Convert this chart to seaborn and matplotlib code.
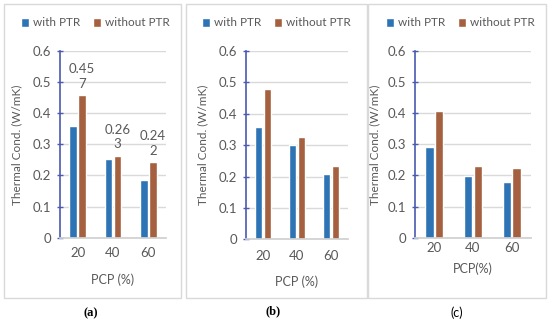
import numpy as np
import pandas as pd
import matplotlib.pyplot as plt
import seaborn as sns
from matplotlib.patches import Rectangle, Patch

# data
pcp = ['20', '40', '60']
with_a = [0.359, 0.254, 0.185]
without_a = [0.457, 0.263, 0.242]
with_b = [0.359, 0.301, 0.207]
without_b = [0.478, 0.325, 0.235]
with_c = [0.293, 0.198, 0.179]
without_c = [0.408, 0.230, 0.225]
series = ['with PTR', 'without PTR']
yticks = [0, 0.1, 0.2, 0.3, 0.4, 0.5, 0.6]
ytick_labels = ['0', '0.1', '0.2', '0.3', '0.4', '0.5', '0.6']

blue = '#2e74b5'
brown = '#a5613f'
grey_txt = '#595959'
axis_col = '#4a5ab0'

sns.set_theme(style='white')
plt.rcParams['font.family'] = ['Lato', 'DejaVu Sans']

W, H = 550, 323
fig = plt.figure(figsize=(5.5, 3.23), dpi=100)


def px_axes(x0, x1, y0, y1):
    return fig.add_axes([x0 / W, (H - y1) / H, (x1 - x0) / W, (y1 - y0) / H])


def px_box(x0, x1, y0, y1):
    fig.add_artist(Rectangle((x0 / W, (H - y1) / H), (x1 - x0) / W, (y1 - y0) / H,
                             transform=fig.transFigure, fill=False,
                             edgecolor='#d9d9d9', linewidth=1.0))


panels = [
    dict(w=with_a, wo=without_a, ax=(60, 166, 51, 237.7), box=(4, 181, 4, 298),
         leg=95, ylab=-0.36, xlab=-0.19, xlabel='PCP (%)', pad=7,
         tag='(a)', tagpos=(91, 313), tagstyle=dict(family='Liberation Serif', weight='bold'),
         labels=True),
    dict(w=with_b, wo=without_b, ax=(246, 348, 51, 239.3), box=(186, 367, 4, 298),
         leg=276, ylab=-0.37, xlab=-0.19, xlabel='PCP (%)', pad=8,
         tag='(b)', tagpos=(273, 311), tagstyle=dict(family='Liberation Serif', weight='bold'),
         labels=False),
    dict(w=with_c, wo=without_c, ax=(415, 531, 51, 237.7), box=(368, 546, 4, 298),
         leg=460, ylab=-0.30, xlab=-0.135, xlabel='PCP(%)', pad=3,
         tag='(c)', tagpos=(457, 313), tagstyle=dict(),
         labels=False),
]

for p in panels:
    px_box(*p['box'])
    ax = px_axes(*p['ax'])
    df = pd.DataFrame({
        'PCP': pcp * 2,
        'val': p['w'] + p['wo'],
        'series': [series[0]] * 3 + [series[1]] * 3,
    })
    sns.barplot(data=df, x='PCP', y='val', hue='series', palette=[blue, brown],
                width=0.5, gap=0.15, ax=ax, legend=False, saturation=1)

    ax.set_ylim(0, 0.6)
    ax.set_xlim(-0.5, 2.5)
    ax.set_yticks(yticks)
    ax.set_yticklabels(ytick_labels)
    ax.yaxis.grid(True, color='#d9d9d9', linewidth=1)
    ax.set_axisbelow(True)
    for s in ['top', 'right']:
        ax.spines[s].set_visible(False)
    ax.spines['left'].set_color(axis_col)
    ax.spines['left'].set_linewidth(1.2)
    ax.spines['bottom'].set_color('#d0d0d0')
    ax.tick_params(axis='y', direction='inout', length=5, width=1, color=axis_col,
                   labelsize=9.5, labelcolor=grey_txt, pad=4, left=True)
    ax.tick_params(axis='x', length=0, labelsize=9.5, labelcolor=grey_txt, pad=p['pad'])

    ax.set_ylabel('Thermal Cond. (W/mK)', fontsize=8.5, color=grey_txt)
    ax.yaxis.set_label_coords(p['ylab'], 0.5)
    ax.set_xlabel(p['xlabel'], fontsize=9, color=grey_txt)
    ax.xaxis.set_label_coords(0.5, p['xlab'])

    if p['labels']:
        txt = [f'{v:.3f}' for v in p['wo']]
        txt = [t[:4] + '\n' + t[4:] for t in txt]
        ax.bar_label(ax.containers[1], labels=txt, padding=4, fontsize=9.5,
                     color=grey_txt, linespacing=1.25)

    handles = [Patch(facecolor=blue), Patch(facecolor=brown)]
    fig.legend(handles, series, loc='center', bbox_to_anchor=(p['leg'] / W, (H - 23) / H),
               ncol=2, frameon=False, fontsize=8.5, labelcolor=grey_txt,
               handlelength=0.7, handleheight=0.7, handletextpad=0.3, columnspacing=1.1)

    fig.text(p['tagpos'][0] / W, (H - p['tagpos'][1]) / H, p['tag'], ha='center', va='center',
             fontsize=9, color='black', **p['tagstyle'])

fig.savefig('out.png', dpi=100)
